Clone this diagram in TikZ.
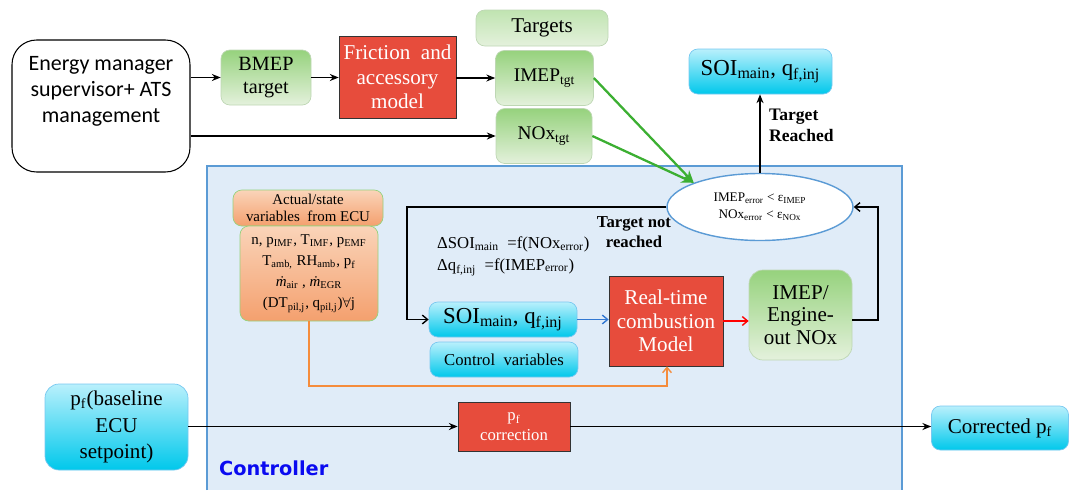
\documentclass[tikz,border=0pt]{standalone}
\usepackage{fontspec}
\usepackage{amsmath, amssymb}
\setmainfont{Liberation Serif}
\newfontfamily\calfont{Carlito}
\newfontfamily\ctrlfont{DejaVu Sans}
\usetikzlibrary{arrows.meta, shapes.geometric}

\definecolor{redfill}{RGB}{231,76,60}
\definecolor{greentop}{RGB}{150,210,125}
\definecolor{greenbot}{RGB}{228,241,220}
\definecolor{greenline}{RGB}{190,215,180}
\definecolor{cyantop}{RGB}{185,240,252}
\definecolor{cyanbot}{RGB}{0,200,235}
\definecolor{cyanline}{RGB}{120,200,240}
\definecolor{orangetop}{RGB}{250,212,185}
\definecolor{orangebot}{RGB}{244,160,110}
\definecolor{ctrlfill}{RGB}{224,236,248}
\definecolor{ctrlline}{RGB}{91,155,213}
\definecolor{arrowgreen}{RGB}{60,175,50}
\definecolor{arroworange}{RGB}{245,140,60}
\definecolor{arrowblue}{RGB}{50,120,210}
\definecolor{ctrlblue}{RGB}{10,10,240}

\newcommand{\fs}[2]{\fontsize{#1}{#2}\selectfont}

\begin{document}
\begin{tikzpicture}[x=0.02cm, y=-0.02cm,
    greenbox/.style={draw=greenline, rounded corners=5pt, top color=greentop, bottom color=greenbot, align=center, inner sep=0pt},
    cyanbox/.style={draw=cyanline, rounded corners=5pt, top color=cyantop, bottom color=cyanbot, align=center, inner sep=0pt},
    orangebox/.style={draw=greentop, rounded corners=5pt, top color=orangetop, bottom color=orangebot, align=center, inner sep=0pt},
    redbox/.style={draw=black!80, fill=redfill, text=white, align=center, inner sep=0pt},
    arr/.style={-{Stealth[length=5pt,width=4pt]}, line width=0.8pt},
    barb/.style={-{Straight Barb[length=3pt,width=5pt]}, line width=0.8pt}]
    \def\px{0.02cm}
    \useasboundingbox (0,0) rectangle (1070,490);

    % controller area
    \fill[ctrlfill] (207,166) rectangle (902,490);
    \draw[ctrlline, line width=0.6pt] (207,490) -- (207,166) -- (902,166) -- (902,490);
    \node[font={\fs{11}{13}\ctrlfont\bfseries}, text=ctrlblue, anchor=west] (controller) at (213,468) {Controller};

    % inputs and targets
    \node[draw, rounded corners=14pt, line width=0.6pt, minimum width=178*\px, minimum height=132*\px, align=center, font={\fs{12.5}{15}\calfont}] (energy) at (101,106) {Energy manager\\supervisor+ ATS\\management\\[4pt]};
    \node[greenbox, minimum width=90*\px, minimum height=55*\px, font={\fs{11.5}{13}}] (bmep) at (266,77.5) {BMEP\\target};
    \node[redbox, minimum width=117*\px, minimum height=82*\px, font={\fs{12}{14}}] (friction) at (397.5,77) {Friction \ and\\accessory\\model};
    \node[greenbox, top color=greentop!60!white, minimum width=132*\px, minimum height=36*\px, font={\fs{12}{14}}] (targets) at (542,28) {Targets};
    \node[greenbox, minimum width=98*\px, minimum height=55*\px, font={\fs{11}{13}}] (imeptgt) at (544.5,78) {IMEP\textsubscript{tgt}};
    \node[greenbox, minimum width=96*\px, minimum height=55*\px, font={\fs{11}{13}}] (noxtgt) at (544,136) {NOx\textsubscript{tgt}};
    \node[cyanbox, minimum width=143*\px, minimum height=45*\px, font={\fs{13}{15}}] (soitop) at (760.5,71.5) {SOI\textsubscript{main}, q\textsubscript{f,inj}};

    % check of the targets
    \node[ellipse, draw=ctrlline, fill=white, line width=0.8pt, minimum width=186*\px, minimum height=67*\px, inner sep=0pt, align=center, font={\fs{7.5}{9.5}}] (check) at (760,207) {IMEP\textsubscript{error} < ε\textsubscript{IMEP}\\NOx\textsubscript{error} < ε\textsubscript{NOx}};
    \node[anchor=west, align=left, font={\fs{10}{12}\bfseries}] (reached) at (763,125) {Target\\Reached};
    \node[align=center, font={\fs{9.5}{11.5}\bfseries}] (notreached) at (634,232) {Target not\\reached};
    \node[anchor=west, align=left, font={\fs{9.5}{12.5}}] (eqs) at (431,256) {ΔSOI\textsubscript{main} \ =f(NOx\textsubscript{error})\\Δq\textsubscript{f,inj} \ =f(IMEP\textsubscript{error})};

    % controller blocks
    \node[orangebox, minimum width=150*\px, minimum height=36*\px, font={\fs{8.5}{10}}] (actual) at (308,208) {Actual/state\\variables \ from ECU};
    \node[orangebox, minimum width=138*\px, minimum height=95*\px, font={\fs{8.5}{12}}] (vars) at (309,273.5) {n, p\textsubscript{IMF}, T\textsubscript{IMF}, p\textsubscript{EMF}\\T\textsubscript{amb,} RH\textsubscript{amb}, p\textsubscript{f}\\\textit{ṁ}\textsubscript{air} , \textit{ṁ}\textsubscript{EGR}\\(DT\textsubscript{pil,j}, q\textsubscript{pil,j})$\forall$j};
    \node[cyanbox, minimum width=148*\px, minimum height=35*\px, font={\fs{13}{15}}] (soictrl) at (503,319.5) {SOI\textsubscript{main}, q\textsubscript{f,inj}};
    \node[cyanbox, minimum width=148*\px, minimum height=35*\px, font={\fs{9.5}{11}}] (ctrlvars) at (504,359.5) {Control \ variables};
    \node[redbox, minimum width=114*\px, minimum height=90*\px, font={\fs{12}{13.5}}] (combustion) at (666,321) {Real-time\\combustion\\Model};
    \node[greenbox, rounded corners=8pt, minimum width=103*\px, minimum height=90*\px, font={\fs{12}{13}}] (imepnox) at (800.5,315) {IMEP/\\Engine-\\out NOx};

    % fuel pressure
    \node[cyanbox, rounded corners=8pt, minimum width=143*\px, minimum height=86*\px, font={\fs{12}{15}}] (pfbase) at (116.5,427) {p\textsubscript{f}(baseline\\ECU\\setpoint)};
    \node[redbox, minimum width=112*\px, minimum height=49*\px, font={\fs{9.5}{11.5}}] (pfcorr) at (514,426.5) {p\textsubscript{f}\\correction};
    \node[cyanbox, minimum width=137*\px, minimum height=44*\px, font={\fs{12}{14}}] (corrected) at (1000,428) {Corrected p\textsubscript{f}};

    \coordinate (fbk) at (407,207);
    \coordinate (rt) at (878,320);
    \coordinate (obot) at (667,386);

    % connectors
    \draw[arr] (energy.east |- bmep.west) -- (bmep.west);
    \draw[arr] (bmep.east) -- (friction.west |- bmep.east);
    \draw[arr] (friction.east |- imeptgt.west) -- (imeptgt.west);
    \draw[arr] (energy.east |- noxtgt.west) -- (noxtgt.west);
    \draw[arrowgreen, line width=1.3pt, -{Stealth[length=7pt,width=6pt]}] (imeptgt.east) -- (check.north west);
    \draw[arrowgreen, line width=1.3pt, -{Stealth[length=7pt,width=6pt]}] (noxtgt.east) -- (check.north west);
    \draw[arr] (check.north) -- (check.north |- soitop.south);
    \draw[barb] (check.west) -- (fbk) |- (soictrl.west);
    \draw[barb, arrowblue] (soictrl.east) -- (soictrl.east -| combustion.west);
    \draw[barb, red] (combustion.east) -- (combustion.east -| imepnox.west);
    \draw[barb] (imepnox.east |- rt) -- (rt) |- (check.east);
    \draw[barb, arroworange] (vars.south) |- (obot) -- (obot |- combustion.south);
    \draw[arr] (pfbase.east |- pfcorr.west) -- (pfcorr.west);
    \draw[arr] (pfcorr.east) -- (pfcorr.east -| corrected.west);
\end{tikzpicture}
\end{document}
